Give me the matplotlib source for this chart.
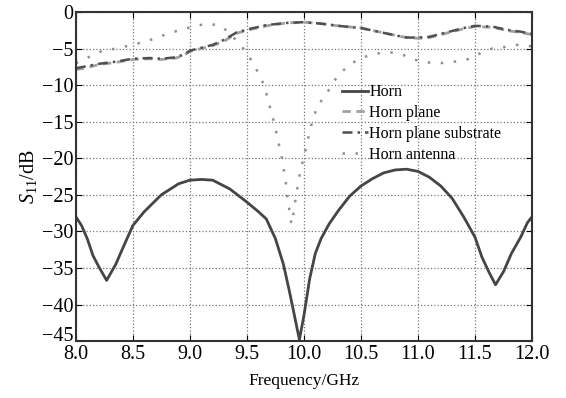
import matplotlib
matplotlib.use('Agg')
import matplotlib.pyplot as plt
import matplotlib.transforms as mtransforms

plt.rcParams['font.family'] = ['Liberation Serif', 'DejaVu Serif']
plt.rcParams['mathtext.fontset'] = 'custom'
plt.rcParams['mathtext.rm'] = 'Liberation Serif'
plt.rcParams['mathtext.it'] = 'Liberation Serif:italic'

# Horn
f_horn = [8.0, 8.05, 8.1, 8.15, 8.2, 8.27, 8.35, 8.42, 8.5, 8.6, 8.75, 8.9, 9.0, 9.1, 9.2,
          9.35, 9.5, 9.6, 9.67, 9.75, 9.82, 9.87, 9.91, 9.96, 10.0, 10.05, 10.1, 10.15, 10.22,
          10.3, 10.4, 10.5, 10.6, 10.7, 10.8, 10.9, 11.0, 11.1, 11.2, 11.3, 11.4, 11.5, 11.56,
          11.62, 11.68, 11.75, 11.82, 11.9, 11.96, 12.0]
s_horn = [-28.0, -29.2, -31.0, -33.3, -34.8, -36.7, -34.5, -32.0, -29.2, -27.3, -25.0, -23.5,
          -23.0, -22.9, -23.0, -24.2, -26.0, -27.3, -28.3, -31.0, -34.5, -38.0, -41.0, -44.8,
          -41.5, -36.5, -33.0, -31.0, -29.0, -27.2, -25.2, -23.8, -22.8, -22.0, -21.6, -21.5,
          -21.8, -22.6, -23.8, -25.5, -28.0, -30.8, -33.5, -35.5, -37.3, -35.5, -33.0, -30.8,
          -28.8, -28.0]

# Horn plane / Horn plane substrate
f_plane = [8.0, 8.1, 8.2, 8.35, 8.5, 8.65, 8.75, 8.88, 8.95, 9.0, 9.1, 9.2, 9.3, 9.41, 9.53,
           9.67, 9.85, 10.0, 10.15, 10.3, 10.5, 10.65, 10.8, 10.9, 11.0, 11.1, 11.25, 11.4,
           11.5, 11.65, 11.8, 11.9, 12.0]
s_plane = [-7.9, -7.6, -7.2, -6.9, -6.5, -6.4, -6.5, -6.3, -5.9, -5.4, -5.0, -4.6, -4.0, -2.9,
           -2.4, -1.9, -1.5, -1.4, -1.6, -1.9, -2.2, -2.7, -3.2, -3.5, -3.6, -3.5, -2.9, -2.3,
           -2.0, -2.1, -2.6, -2.8, -3.1]
s_substrate = [-7.7, -7.4, -7.1, -6.8, -6.4, -6.3, -6.4, -6.2, -5.8, -5.3, -4.9, -4.5, -3.8,
               -2.8, -2.3, -1.8, -1.5, -1.4, -1.6, -1.9, -2.2, -2.7, -3.2, -3.5, -3.5, -3.4,
               -2.8, -2.2, -1.9, -2.0, -2.5, -2.7, -3.0]

# Horn antenna
f_ant = [8.0, 8.11, 8.22, 8.35, 8.47, 8.57, 8.7, 8.8, 8.93, 9.05, 9.16, 9.27, 9.35, 9.43,
         9.5, 9.56, 9.62, 9.66, 9.69, 9.72, 9.75, 9.77, 9.8, 9.82, 9.84, 9.85, 9.87, 9.88,
         9.9, 9.91, 9.93, 9.95, 9.97, 10.0, 10.03, 10.05, 10.08, 10.12, 10.2, 10.25, 10.33,
         10.42, 10.52, 10.63, 10.75, 10.86, 10.96, 11.08, 11.2, 11.32, 11.43, 11.54, 11.65,
         11.76, 11.87, 12.0]
s_ant = [-7.0, -6.2, -5.4, -5.0, -4.6, -4.2, -3.6, -3.0, -2.4, -1.9, -1.6, -1.9, -2.9, -4.3,
         -5.6, -7.2, -8.9, -10.5, -12.3, -14.1, -15.8, -17.4, -19.4, -21.3, -23.1, -24.9,
         -26.8, -28.5, -29.0, -27.1, -25.3, -23.4, -21.6, -19.8, -17.9, -16.3, -14.6, -12.8,
         -11.2, -9.7, -8.2, -7.0, -6.2, -5.7, -5.5, -5.8, -6.5, -6.9, -7.0, -6.8, -6.5, -5.7,
         -5.0, -4.8, -4.5, -4.7]

fig = plt.figure(figsize=(5.66, 3.98), dpi=100)
ax = fig.add_axes([0.134, 0.143, 0.806, 0.827])

ax.plot(f_horn, s_horn, color='#454545', lw=2.0, label='Horn')
ax.plot(f_plane, s_plane, color='#a0a0a0', lw=2.0, ls=(0, (3, 2)), label='Horn plane')
ax.plot(f_plane, s_substrate, color='#505050', lw=1.8, ls=(0, (4, 2, 1, 2)),
        label='Horn plane substrate')
ax.plot(f_ant, s_ant, color='#909090', lw=1.8, ls=(0, (1, 4.2)), label='Horn antenna')

ax.set_xlim(8.0, 12.0)
ax.set_ylim(-45, 0)
ax.set_xticks([8.0, 8.5, 9.0, 9.5, 10.0, 10.5, 11.0, 11.5, 12.0])
ax.set_xticklabels(['8.0', '8.5', '9.0', '9.5', '10.0', '10.5', '11.0', '11.5', '12.0'])
ax.set_yticks(range(-45, 1, 5))
ax.grid(True, ls=':', color='#777777', lw=0.9)
ax.tick_params(direction='in', top=True, right=True, labelsize=14.5, length=4)
ax.tick_params(axis='x', pad=3)
ax.tick_params(axis='y', pad=2)
for sp in ax.spines.values():
    sp.set_linewidth(1.5)
    sp.set_color('#333333')

# lift the bottom y label a little, as in the original
lbl = ax.get_yticklabels()[0]
lbl.set_transform(lbl.get_transform() + mtransforms.ScaledTranslation(0, 5 / 72, fig.dpi_scale_trans))

ax.set_xlabel('Frequency/GHz', fontsize=12.5, labelpad=6)
ax.set_ylabel(r'$S_{11}$/dB', fontsize=14.5, labelpad=2)

ax.legend(loc='upper left', bbox_to_anchor=(0.57, 0.80), frameon=False, fontsize=11.5,
          handlelength=1.6, handletextpad=0.1, labelspacing=0.3, borderaxespad=0)

fig.savefig('out.png', dpi=100)
